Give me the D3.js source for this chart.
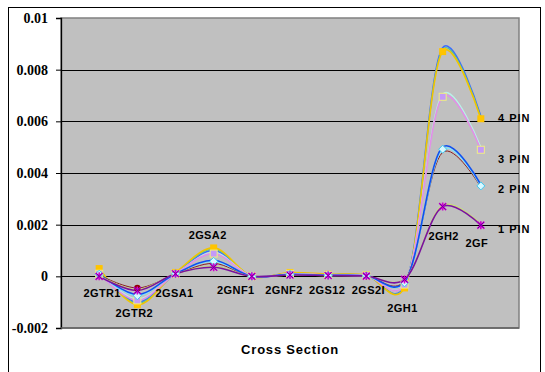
<!DOCTYPE html>
<html><head><meta charset="utf-8">
<script src="https://cdn.jsdelivr.net/npm/d3@7"></script>
<style>body{margin:0;background:#fff}svg{display:block}</style>
</head><body><svg id="c" width="545" height="372"></svg>
<script>
const categories = ["2GTR1","2GTR2","2GSA1","2GSA2","2GNF1","2GNF2","2GS12","2GS2I","2GH1","2GH2","2GF"];
const yTicks = [-0.002,0,0.002,0.004,0.006,0.008,0.01];
const groupLabels = ["4 PIN","3 PIN","2 PIN","1 PIN"];

// series values
const pin4Blue   = [0.00025,-0.0010,0.00012,0.00100,0,0.00012,0.00006,0.00004,-0.00040,0.00885,0.00620];
const pin4Green  = [0.00028,-0.00105,0.00013,0.00105,0,0.00013,0.00007,0.00004,-0.00042,0.00878,0.00615];
const pin4Yellow = [0.00030,-0.00110,0.00015,0.00110,0,0.00015,0.00008,0.00005,-0.00045,0.00870,0.00610];
const pin3Cyan   = [0.00012,-0.00088,0.00010,0.00092,0,0.00010,0.00005,0.00003,-0.00030,0.00705,0.00500];
const pin3Pink   = [0.00010,-0.00093,0.00010,0.00088,0,0.00010,0.00005,0.00003,-0.00032,0.00695,0.00490];
const pin2Blue   = [0.00010,-0.00070,0.00010,0.00062,0,0.00008,0.00004,0.00002,-0.00022,0.00500,0.00355];
const pin2Cyan   = [0.00008,-0.00075,0.00010,0.00058,0,0.00008,0.00004,0.00002,-0.00025,0.00492,0.00350];
const pin2Maroon = [0.00005,-0.00045,0.00008,0.00050,0,0.00006,0.00003,0.00001,-0.00018,0.00480,0.00345];
const pin1Lime   = [0.00002,-0.00052,0.00010,0.00038,0,0.00005,0.00003,0.00001,-0.00010,0.00275,0.00202];
const pin1Purple = [0.00000,-0.00055,0.00010,0.00035,0,0.00005,0.00003,0.00001,-0.00012,0.00270,0.00198];

const series = [
  {v: pin4Blue,   color:"#3a6cff", w:1.6},
  {v: pin4Green,  color:"#5fc58a", w:1.2},
  {v: pin4Yellow, color:"#f0c400", w:1.6, marker:"square", mfill:"#ffc400"},
  {v: pin3Cyan,   color:"#b8f0e8", w:1.4},
  {v: pin3Pink,   color:"#e28fe6", w:1.6, marker:"square", mfill:"#c49af8", mstroke:"#f0f080"},
  {v: pin2Maroon, color:"#8a2020", w:1.0, marker:"circle", mfill:"#900000", only:[1]},
  {v: pin2Cyan,   color:"#80e4ff", w:1.4, marker:"diamond", mfill:"#d8f8ff", mstroke:"#40c8f0"},
  {v: pin2Blue,   color:"#1050f0", w:1.6},
  {v: pin1Lime,   color:"#c8e070", w:1.3},
  {v: pin1Purple, color:"#7a10a0", w:1.6, marker:"x", mfill:"#d000d0"}
];
const labelSeries = [pin4Yellow, pin3Pink, pin2Cyan, pin1Purple];

const svg = d3.select("#c");
const L = 61, R = 519, T = 18, B = 328;

svg.append("rect").attr("x",8.5).attr("y",7.5).attr("width",532).attr("height",380)
  .attr("fill","#fff").attr("stroke","#000").attr("stroke-width",1);

const x = d3.scalePoint().domain(categories).range([L,R]).padding(1);
const y = d3.scaleLinear().domain([-0.002,0.01]).range([B,T]);

svg.append("rect").attr("x",L).attr("y",T).attr("width",R-L).attr("height",B-T)
  .attr("fill","#c0c0c0").attr("stroke","#808080").attr("stroke-width",1.5);

// gridlines
svg.append("g").selectAll("line").data(yTicks.filter(d=>d>-0.002 && d<0.01)).join("line")
  .attr("x1",L).attr("x2",R).attr("y1",d=>Math.round(y(d))+0.5).attr("y2",d=>Math.round(y(d))+0.5)
  .attr("stroke","#000").attr("stroke-width",1);

// y axis
const yAxis = d3.axisLeft(y).tickValues(yTicks).tickSize(5).tickPadding(8)
  .tickFormat(d=>String(+d.toFixed(3)));
const ga = svg.append("g").attr("transform",`translate(${L},0)`).call(yAxis);
ga.select(".domain").attr("stroke","#000").attr("stroke-width",1.3);
ga.selectAll(".tick line").attr("stroke","#000");
ga.selectAll("text").attr("font-family","'Liberation Serif','Times New Roman',serif")
  .attr("font-weight","bold").attr("font-size",14).attr("fill","#000");
svg.append("line").attr("x1",L).attr("x2",R).attr("y1",B).attr("y2",B).attr("stroke","#606060").attr("stroke-width",1.5);

const line = d3.line().x((d,i)=>x(categories[i])).y(d=>y(d)).curve(d3.curveCatmullRom.alpha(0.2));

const gS = svg.append("g");
series.forEach(s=>{
  gS.append("path").attr("d",line(s.v)).attr("fill","none").attr("stroke",s.color).attr("stroke-width",s.w);
});
series.forEach(s=>{
  if(!s.marker) return;
  s.v.forEach((d,i)=>{
    if(s.only && !s.only.includes(i)) return;
    const cx = x(categories[i]), cy = y(d);
    if(s.marker==="square"){
      gS.append("rect").attr("x",cx-3.5).attr("y",cy-3.5).attr("width",7).attr("height",7)
        .attr("fill",s.mfill).attr("stroke",s.mstroke||"none").attr("stroke-width",1);
    } else if(s.marker==="circle"){
      gS.append("circle").attr("cx",cx).attr("cy",cy).attr("r",3.2).attr("fill",s.mfill);
    } else if(s.marker==="diamond"){
      gS.append("path").attr("d",`M${cx},${cy-4}L${cx+4},${cy}L${cx},${cy+4}L${cx-4},${cy}Z`)
        .attr("fill",s.mfill).attr("stroke",s.mstroke).attr("stroke-width",1);
    } else if(s.marker==="x"){
      gS.append("path").attr("d",`M${cx-3.5},${cy-3.5}L${cx+3.5},${cy+3.5}M${cx+3.5},${cy-3.5}L${cx-3.5},${cy+3.5}M${cx},${cy-4}L${cx},${cy+4}`)
        .attr("stroke",s.mfill).attr("stroke-width",1.6);
      gS.append("path").attr("d",`M${cx-3},${cy-3}L${cx+3},${cy+3}M${cx+3},${cy-3}L${cx-3},${cy+3}`)
        .attr("stroke","#7000a0").attr("stroke-width",1);
    }
  });
});

// category labels (offsets from each category position)
const catLabelDx = [3,-3,-1,-6,-16,-6,-1,2,-2,1,-4];
const catLabelY  = [297,317,297,239,294,294,294,294,312,240,247];
svg.append("g").selectAll("text").data(categories).join("text")
  .attr("x",(d,i)=>x(d)+catLabelDx[i]).attr("y",(d,i)=>catLabelY[i])
  .attr("text-anchor","middle").attr("font-family","'Liberation Sans',Arial,sans-serif")
  .attr("font-weight","bold").attr("font-size",11).attr("letter-spacing",0.4).attr("fill","#000")
  .text(d=>d);

// group labels
const groupDy = [-1,9,3,4];
svg.append("g").selectAll("text").data(groupLabels).join("text")
  .attr("x",498).attr("y",(d,i)=>y(labelSeries[i][categories.length-1])+groupDy[i]+4)
  .attr("font-family","'Liberation Sans',Arial,sans-serif").attr("font-weight","bold")
  .attr("font-size",11).attr("letter-spacing",1).attr("fill","#000").text(d=>d);

svg.append("text").attr("x",290).attr("y",354).attr("text-anchor","middle")
  .attr("font-family","'Liberation Sans',Arial,sans-serif").attr("font-weight","bold")
  .attr("font-size",13).attr("letter-spacing",0.8).attr("fill","#000").text("Cross Section");
</script></body></html>
